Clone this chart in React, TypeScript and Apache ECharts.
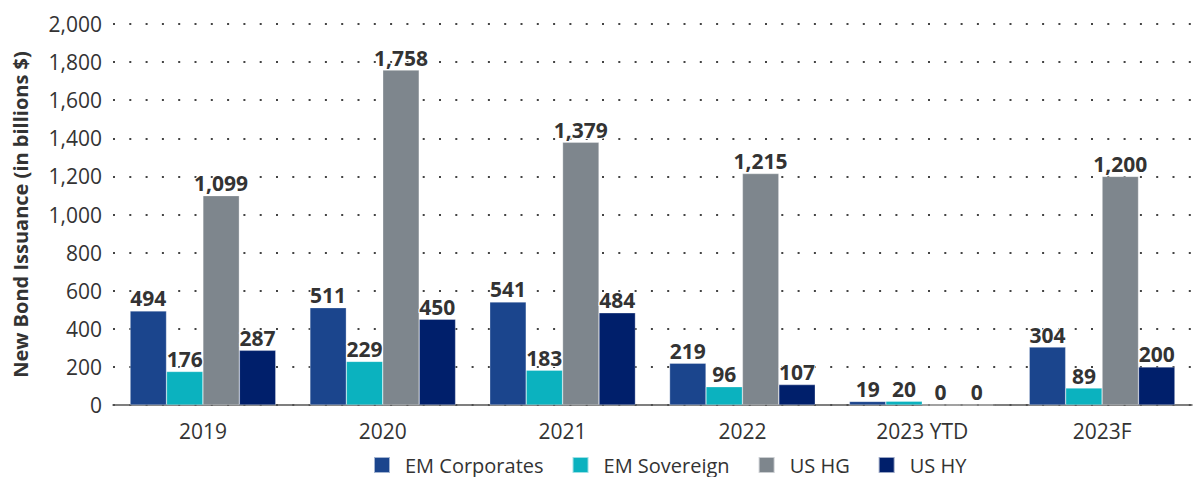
import React, { useEffect, useRef } from "react";
import * as echarts from "echarts";

const categories = ["2019", "2020", "2021", "2022", "2023 YTD", "2023F"];
const emCorporates = [494, 511, 541, 219, 19, 304];
const emSovereign = [176, 229, 183, 96, 20, 89];
const usHG = [1099, 1758, 1379, 1215, 0, 1200];
const usHY = [287, 450, 484, 107, 0, 200];
const yTicks = { min: 0, max: 2000, interval: 200 };

const FONT = "'Open Sans', 'Noto Sans', sans-serif";

export default function App() {
  const ref = useRef<HTMLDivElement>(null);
  useEffect(() => {
    if (!ref.current) return;
    const chart = echarts.init(ref.current, null, { renderer: "svg" });
    const mk = (name: string, data: number[], color: string) => ({
      name,
      type: "bar",
      data,
      barGap: "0%",
      barCategoryGap: "19%",
      itemStyle: { color, borderColor: "rgba(255,255,255,0.6)", borderWidth: 0.5 },
      label: {
        show: true,
        position: "top",
        distance: 2,
        fontFamily: FONT,
        fontWeight: "bold",
        fontSize: 21,
        color: "#333333",
        textBorderColor: "#ffffff",
        textBorderWidth: 2,
        formatter: (p: any) => Number(p.value).toLocaleString("en-US"),
      },
    });
    chart.setOption({
      animation: false,
      textStyle: { fontFamily: FONT },
      grid: { left: 113, right: 4, top: 24, bottom: 72, containLabel: false },
      legend: {
        bottom: -3,
        left: 368,
        itemWidth: 16,
        itemHeight: 16,
        itemGap: 28,
        icon: "rect",
        textStyle: { fontFamily: FONT, fontSize: 20, color: "#333", padding: [0, 0, 0, 10] },
        data: ["EM Corporates", "EM Sovereign", "US HG", "US HY"],
      },
      xAxis: {
        type: "category",
        data: categories,
        axisLine: { lineStyle: { color: "#555", width: 1.5 } },
        axisTick: { show: false },
        axisLabel: { fontFamily: FONT, fontSize: 21, color: "#333", margin: 15 },
      },
      yAxis: {
        type: "value",
        min: yTicks.min,
        max: yTicks.max,
        interval: yTicks.interval,
        name: "New Bond Issuance (in billions $)",
        nameLocation: "middle",
        nameGap: 83,
        nameTextStyle: { fontFamily: FONT, fontSize: 20, fontWeight: "bold", color: "#333" },
        axisLine: { show: false },
        axisTick: { show: false },
        axisLabel: {
          fontFamily: FONT,
          fontSize: 21,
          color: "#333",
          margin: 11,
          formatter: (v: number) => v.toLocaleString("en-US"),
        },
        splitLine: { lineStyle: { color: "#444", width: 2, type: [2, 14.3] } },
      },
      series: [
        mk("EM Corporates", emCorporates, "#1b458d"),
        mk("EM Sovereign", emSovereign, "#0bb2bf"),
        mk("US HG", usHG, "#7e868d"),
        mk("US HY", usHY, "#001f6b"),
      ],
    });
    return () => chart.dispose();
  }, []);
  return <div ref={ref} style={{ width: 1196, height: 477, position: "absolute", left: 0, top: 0 }} />;
}
